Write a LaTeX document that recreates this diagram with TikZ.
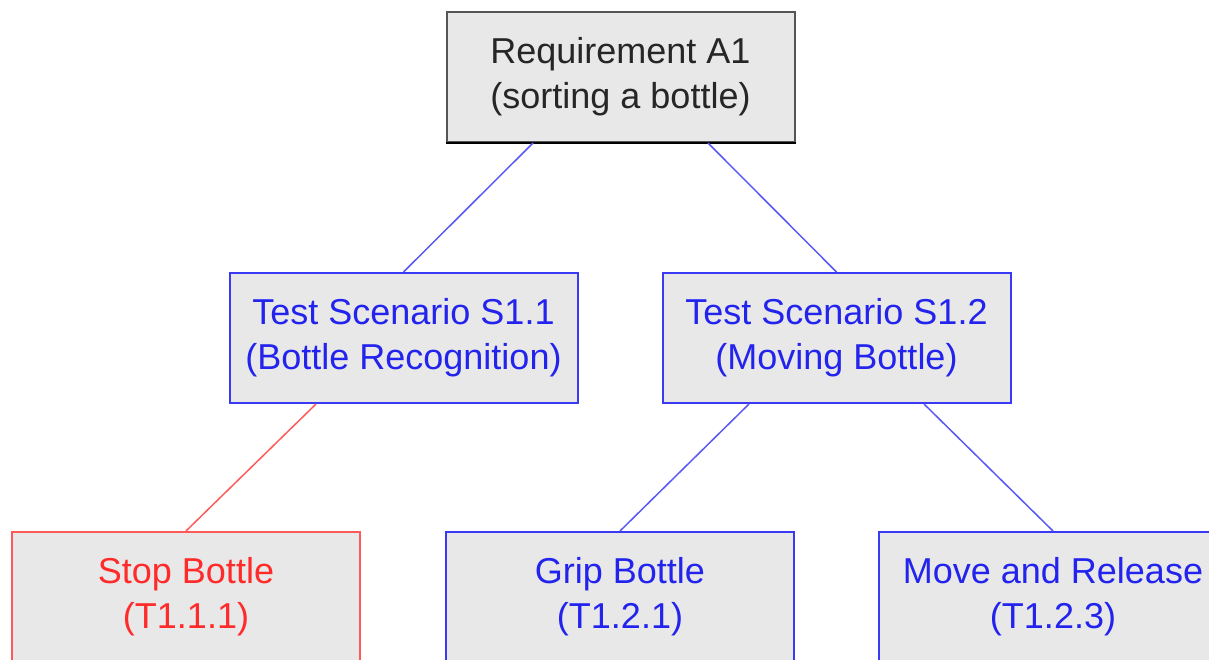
\documentclass[tikz,border=0pt]{standalone}
\usepackage{fontspec}
\setmainfont{Liberation Sans}
\usetikzlibrary{calc}
\definecolor{boxfill}{HTML}{E8E8E8}
\definecolor{blueline}{HTML}{3A3AF5}
\definecolor{bluetext}{HTML}{2323EE}
\definecolor{redline}{HTML}{FF5A5A}
\definecolor{redtext}{HTML}{FF2A2A}
\definecolor{greyline}{HTML}{555555}
\tikzset{
  box/.style={draw, line width=2pt, fill=boxfill, minimum width=348pt,
    minimum height=130pt, inner sep=0pt, align=center,
    font=\fontsize{36}{45}\selectfont},
  reqbox/.style={box, draw=greyline, text=black!85},
  bluebox/.style={box, draw=blueline, text=bluetext},
  redbox/.style={box, draw=redline, text=redtext},
  blink/.style={draw=blueline!85, line width=1.5pt},
  rlink/.style={draw=redline, line width=1.5pt}
}
\begin{document}
\begin{tikzpicture}[x=1pt,y=-1pt]
  \useasboundingbox (0,0) rectangle (1209,659);
  \clip (0,0) rectangle (1209,659);

  % requirement and scenarios
  \node[reqbox]  (req) at (620.5,77)  {Requirement A1\\(sorting a bottle)};
  \draw[black, line width=2pt] (req.south west) -- (req.south east);
  \node[bluebox] (s11) at (403.5,338) {Test Scenario S1.1\\(Bottle Recognition)};
  \node[bluebox] (s12) at (836.5,338) {Test Scenario S1.2\\(Moving Bottle)};

  % test cases
  \node[redbox]  (t111) at (186,597)  {Stop Bottle\\(T1.1.1)};
  \node[bluebox] (t121) at (620,597)  {Grip Bottle\\(T1.2.1)};
  \node[bluebox] (t123) at (1053,597) {Move and Release\\(T1.2.3)};

  % links
  \draw[blink] ($(req.south west)!0.25!(req.south east)$) -- (s11.north);
  \draw[blink] ($(req.south west)!0.75!(req.south east)$) -- (s12.north);
  \draw[rlink] ($(s11.south west)!0.25!(s11.south east)$) -- (t111.north);
  \draw[blink] ($(s12.south west)!0.25!(s12.south east)$) -- (t121.north);
  \draw[blink] ($(s12.south west)!0.75!(s12.south east)$) -- (t123.north);
\end{tikzpicture}
\end{document}
